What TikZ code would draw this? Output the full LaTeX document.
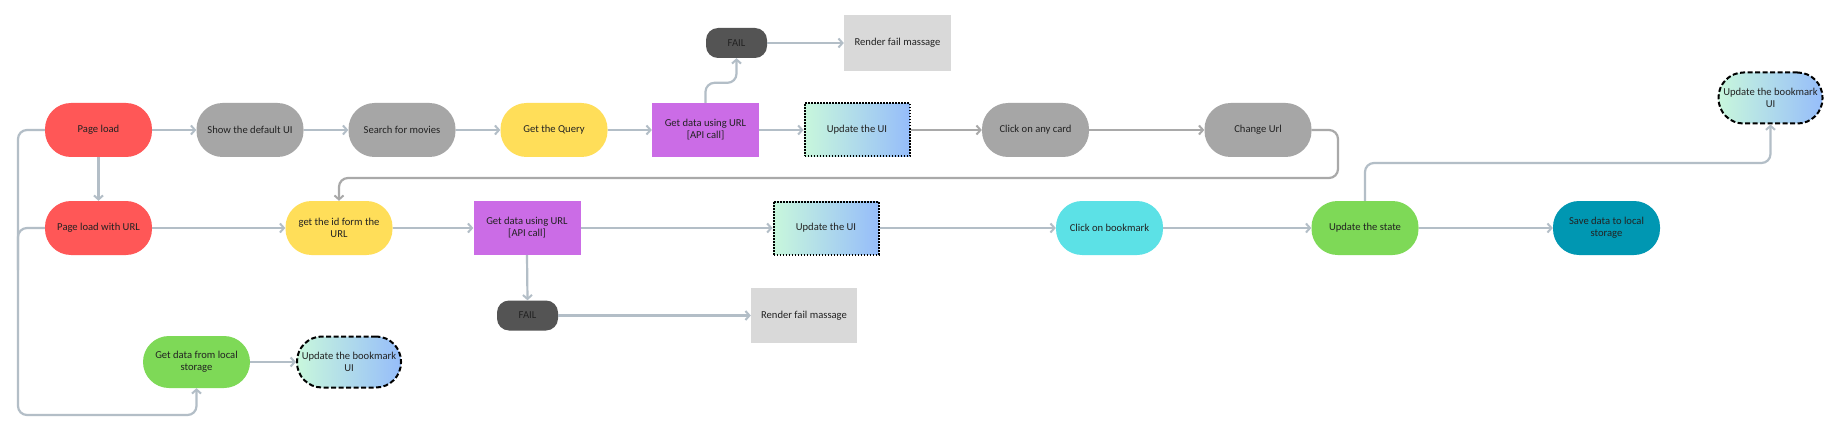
\documentclass[tikz,border=0pt]{standalone}
\usepackage{fontspec}
\setmainfont{Carlito}
\usetikzlibrary{arrows.meta}
\definecolor{cred}{HTML}{FF5757}
\definecolor{cgray}{HTML}{A6A6A6}
\definecolor{cyel}{HTML}{FFDE59}
\definecolor{cpurp}{HTML}{CB6CE6}
\definecolor{cdark}{HTML}{545454}
\definecolor{clight}{HTML}{D9D9D9}
\definecolor{ccyan}{HTML}{5CE1E6}
\definecolor{cgreen}{HTML}{7ED957}
\definecolor{cteal}{HTML}{0097B2}
\definecolor{gradL}{HTML}{C8F7DC}
\definecolor{gradR}{HTML}{96BDFA}
\definecolor{cline}{HTML}{B3BEC7}
\definecolor{cline2}{HTML}{A9A9A9}
\definecolor{ctext}{HTML}{222222}
\tikzset{
  base/.style={font=\fontsize{10.6}{12}\selectfont, text=ctext, align=center, inner sep=0pt},
  pill/.style={base, rounded corners=26pt, minimum width=107pt, minimum height=54pt},
  rbox/.style={base, rectangle, minimum width=107pt, minimum height=54pt},
  failbox/.style={base, fill=cdark, rounded corners=12pt, minimum width=61pt, minimum height=30pt},
  uibox/.style={base, rectangle, left color=gradL, right color=gradR, draw=black, line width=2pt, dash pattern=on 1.6pt off 1.4pt, minimum width=105pt, minimum height=53pt},
  bmkbox/.style={base, left color=gradL, right color=gradR, draw=black, line width=2pt, dash pattern=on 5pt off 2.5pt, rounded corners=25pt, minimum width=104pt, minimum height=51pt},
  conn/.style={draw=cline, line width=2.2pt, rounded corners=9pt, -{Straight Barb[length=4pt,width=9pt,line width=2pt]}},
  conn2/.style={conn, draw=cline2},
  plain/.style={draw=cline, line width=2.2pt, rounded corners=9pt}
}
\begin{document}
\begin{tikzpicture}[x=1pt,y=-1pt]
\useasboundingbox[fill=white] (0,0) rectangle (1834,425);
% row 1
\node[pill, fill=cred] (pl) at (98.5,130) {Page load};
\node[pill, fill=cgray] (sd) at (250,130) {Show the default UI};
\node[pill, fill=cgray] (sm) at (402,130) {Search for movies};
\node[pill, fill=cyel] (gq) at (554,130) {Get the Query};
\node[rbox, fill=cpurp] (gdA) at (705.5,130) {Get data using URL\\{[API call]}};
\node[uibox] (uiA) at (857,130) {Update the UI};
\node[pill, fill=cgray] (cc) at (1035.5,130) {Click on any card};
\node[pill, fill=cgray] (cu) at (1258,130) {Change Url};
\node[failbox] (failA) at (736.5,43) {FAIL};
\node[rbox, fill=clight, minimum height=56pt] (rfA) at (897.5,43) {Render fail massage};
\node[bmkbox] (bmA) at (1770.5,98) {Update the bookmark\\UI};
% row 2
\node[pill, fill=cred] (plu) at (98.5,228) {Page load with URL};
\node[pill, fill=cyel] (gid) at (339,228) {get the id form the\\URL};
\node[rbox, fill=cpurp] (gdB) at (527,228) {Get data using URL\\{[API call]}};
\node[uibox] (uiB) at (826,228) {Update the UI};
\node[pill, fill=ccyan] (cb) at (1109.5,228) {Click on bookmark};
\node[pill, fill=cgreen] (us) at (1365,228) {Update the state};
\node[pill, fill=cteal] (sv) at (1606.5,228) {Save data to local\\storage};
% row 3
\node[failbox] (failB) at (527.5,315.5) {FAIL};
\node[rbox, fill=clight, minimum width=106pt, minimum height=55pt] (rfB) at (804,315.5) {Render fail massage};
\node[pill, fill=cgreen, minimum height=52pt] (gl) at (196.5,362) {Get data from local\\storage};
\node[bmkbox] (bmB) at (349,362) {Update the bookmark\\UI};
% connectors row 1
\draw[conn] (pl) -- (sd);
\draw[conn] (sd) -- (sm);
\draw[conn] (sm) -- (gq);
\draw[conn] (gq) -- (gdA);
\draw[conn] (gdA) -- (uiA);
\draw[conn2] (uiA) -- (cc);
\draw[conn2] (cc) -- (cu);
\draw[conn2] (cu.east) -- (1338,130) -- (1338,178) -- (339,178) -- (gid.north);
\draw[conn] (gdA.north) -- ++(0,-20) -| (failA.south);
\draw[conn] (failA) -- (rfA);
\draw[conn] (pl.south) -- (plu.north);
\draw[conn] (pl.west) -- (18,130) -- (18,415) -| (gl.south);
\draw[plain] (plu.west) -| (18,270);
% connectors row 2
\draw[conn] (plu) -- (gid);
\draw[conn] (gid) -- (gdB);
\draw[conn] (gdB) -- (uiB);
\draw[conn] (uiB) -- (cb);
\draw[conn] (cb) -- (us);
\draw[conn] (us) -- (sv);
\draw[conn] (us.north) -- (1365,163) -| (bmA.south);
\draw[conn] (gdB.south) -- (failB.north);
\draw[conn] (failB) -- (rfB);
\draw[conn] (gl) -- (bmB);
\end{tikzpicture}
\end{document}
